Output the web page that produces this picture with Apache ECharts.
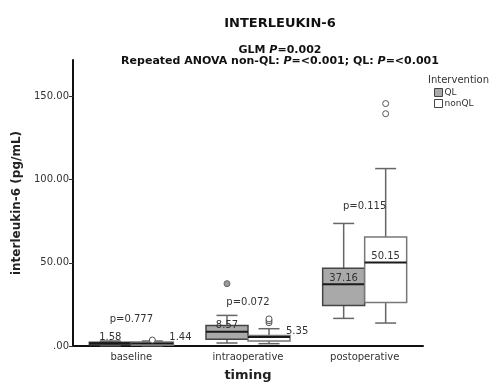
<!DOCTYPE html>
<html>
<head>
<meta charset="utf-8">
<script src="https://cdn.jsdelivr.net/npm/echarts@6/dist/echarts.min.js"></script>
<style>
html,body{margin:0;padding:0;background:#fff;}
#chart{width:497px;height:387px;}
</style>
</head>
<body>
<div id="chart"></div>
<script>
// ---- data ----
const categories = ['baseline', 'intraoperative', 'postoperative'];
// [min, Q1, median, Q3, max]
const qlBox = [[0.2, 0.8, 1.58, 2.2, 3.0], [1.8, 4.0, 8.57, 12.3, 18.4], [16.6, 24.3, 37.16, 46.8, 73.7]];
const nonqlBox = [[0.1, 0.5, 1.44, 2.4, 3.0], [1.4, 3.0, 5.35, 6.3, 10.4], [13.8, 26.1, 50.15, 65.6, 106.7]];
// [category index, value]
const qlOutliers = [[1, 37.5]];
const nonqlOutliers = [[0, 3.6], [1, 14.0], [1, 15.2], [1, 16.3], [2, 139.7], [2, 145.8]];
const pTexts = ['p=0.777', 'p=0.072', 'p=0.115'];
const pValueY = [16, 26, 84];
const yTicks = [0, 50, 100, 150];
const yMax = 172;

const FONT = 'DejaVu Sans';

function boxRender(side, fill, stroke) {
  return function (params, api) {
    const i = api.value(0);
    const band = api.size([1, 0])[0];
    const w = band * 0.36;
    const cx = api.coord([i, 0])[0] + side * w / 2;
    const yy = k => api.coord([i, api.value(k)])[1];
    const yMin = yy(1), yQ1 = yy(2), yMed = yy(3), yQ3 = yy(4), yMx = yy(5);
    const cap = w / 2;
    const wh = { stroke: '#666', lineWidth: 1.5 };
    const small = (yQ1 - yQ3) < 10 && side > 0;
    const label = api.value(3).toFixed(2);
    return {
      type: 'group',
      children: [
        { type: 'line', shape: { x1: cx, y1: yQ3, x2: cx, y2: yMx }, style: wh },
        { type: 'line', shape: { x1: cx, y1: yQ1, x2: cx, y2: yMin }, style: wh },
        { type: 'line', shape: { x1: cx - cap / 2, y1: yMx, x2: cx + cap / 2, y2: yMx }, style: wh },
        { type: 'line', shape: { x1: cx - cap / 2, y1: yMin, x2: cx + cap / 2, y2: yMin }, style: wh },
        { type: 'rect', shape: { x: cx - w / 2, y: yQ3, width: w, height: Math.max(yQ1 - yQ3, 1) },
          style: { fill: fill, stroke: stroke, lineWidth: 1.5 } },
        { type: 'line', shape: { x1: cx - w / 2, y1: yMed, x2: cx + w / 2, y2: yMed },
          style: { stroke: '#1a1a1a', lineWidth: 2 } },
        { type: 'text', x: small ? cx + w / 2 - 4 : cx, y: yMed - 1,
          style: { text: label, fill: '#333', font: '10px "' + FONT + '"',
            textAlign: small ? 'left' : 'center', textVerticalAlign: 'bottom' } }
      ]
    };
  };
}

function outlierRender(side, fill, stroke) {
  return function (params, api) {
    const i = api.value(0);
    const band = api.size([1, 0])[0];
    const w = band * 0.36;
    const p = api.coord([i, api.value(1)]);
    return { type: 'circle', shape: { cx: p[0] + side * w / 2, cy: p[1], r: 3 },
      style: { fill: fill, stroke: stroke, lineWidth: 1 } };
  };
}

function pRender(params, api) {
  const p = api.coord([api.value(0), api.value(1)]);
  return { type: 'text', x: p[0], y: p[1],
    style: { text: pTexts[params.dataIndex], fill: '#333', font: '10px "' + FONT + '"',
      textAlign: 'center', textVerticalAlign: 'middle' } };
}

const chart = echarts.init(document.getElementById('chart'), null, { renderer: 'canvas' });
chart.setOption({
  backgroundColor: '#fff',
  animation: false,
  textStyle: { fontFamily: FONT },
  graphic: [
    { type: 'text', x: 280, y: 24, style: { text: 'INTERLEUKIN-6', font: 'bold 13px "' + FONT + '"',
      fill: '#111', textAlign: 'center', textVerticalAlign: 'middle' } },
    { type: 'text', x: 280, y: 50, style: {
      text: '{b|GLM }{i|P}{b|=0.002}',
      textAlign: 'center', textVerticalAlign: 'middle',
      rich: { b: { font: 'bold 11px "' + FONT + '"', fill: '#111' },
              i: { font: 'italic bold 11px "' + FONT + '"', fill: '#111' } } } },
    { type: 'text', x: 280, y: 61, style: {
      text: '{b|Repeated ANOVA non-QL: }{i|P}{b|=<0.001; QL: }{i|P}{b|=<0.001}',
      textAlign: 'center', textVerticalAlign: 'middle',
      rich: { b: { font: 'bold 11px "' + FONT + '"', fill: '#111' },
              i: { font: 'italic bold 11px "' + FONT + '"', fill: '#111' } } } },
    { type: 'text', x: 428, y: 80, style: { text: 'Intervention', font: '10px "' + FONT + '"',
      fill: '#333', textAlign: 'left', textVerticalAlign: 'middle' } }
  ],
  legend: {
    orient: 'vertical', left: 434, top: 88, itemWidth: 8, itemHeight: 8, itemGap: 2, padding: 0,
    icon: 'rect',
    textStyle: { fontSize: 9, color: '#333', fontFamily: FONT, padding: [0, 0, 0, -3] },
    data: [
      { name: 'QL', itemStyle: { color: '#a9a9a9', borderColor: '#444', borderWidth: 1 } },
      { name: 'nonQL', itemStyle: { color: '#fff', borderColor: '#444', borderWidth: 1 } }
    ]
  },
  grid: { left: 73, right: 74, top: 60, bottom: 37 },
  xAxis: {
    type: 'category', data: categories,
    name: 'timing', nameLocation: 'middle', nameGap: 23,
    nameTextStyle: { fontSize: 13, fontWeight: 'bold', color: '#222', fontFamily: FONT },
    axisLine: { lineStyle: { color: '#111', width: 2 } },
    axisTick: { alignWithLabel: true, length: 4, lineStyle: { color: '#333' } },
    axisLabel: { fontSize: 10, color: '#333', margin: 6, fontFamily: FONT },
    splitLine: { show: false }
  },
  yAxis: {
    type: 'value', min: 0, max: yMax,
    name: 'interleukin-6 (pg/mL)', nameLocation: 'middle', nameGap: 48,
    nameTextStyle: { fontSize: 12, fontWeight: 'bold', color: '#222', fontFamily: FONT },
    axisLine: { show: true, lineStyle: { color: '#111', width: 2 } },
    axisTick: { show: true, length: 4, customValues: yTicks, lineStyle: { color: '#333' } },
    axisLabel: { fontSize: 10, color: '#333', margin: 4, fontFamily: FONT, customValues: yTicks,
      formatter: v => v === 0 ? '.00' : v.toFixed(2) },
    splitLine: { show: false }
  },
  series: [
    { name: 'QL', type: 'custom', renderItem: boxRender(-1, '#a9a9a9', '#444'),
      itemStyle: { color: '#a9a9a9', borderColor: '#444' },
      encode: { x: 0, y: [1, 2, 3, 4, 5] },
      data: qlBox.map((b, i) => [i].concat(b)), z: 2 },
    { name: 'nonQL', type: 'custom', renderItem: boxRender(1, '#fff', '#777'),
      itemStyle: { color: '#fff', borderColor: '#444' },
      encode: { x: 0, y: [1, 2, 3, 4, 5] },
      data: nonqlBox.map((b, i) => [i].concat(b)), z: 2 },
    { name: 'QL outliers', type: 'custom', renderItem: outlierRender(-1, '#999', '#666'),
      encode: { x: 0, y: 1 }, data: qlOutliers, z: 3 },
    { name: 'nonQL outliers', type: 'custom', renderItem: outlierRender(1, '#fff', '#555'),
      encode: { x: 0, y: 1 }, data: nonqlOutliers, z: 3 },
    { name: 'p values', type: 'custom', renderItem: pRender,
      encode: { x: 0, y: 1 }, data: pValueY.map((v, i) => [i, v]), z: 4 }
  ]
});
</script>
</body>
</html>
